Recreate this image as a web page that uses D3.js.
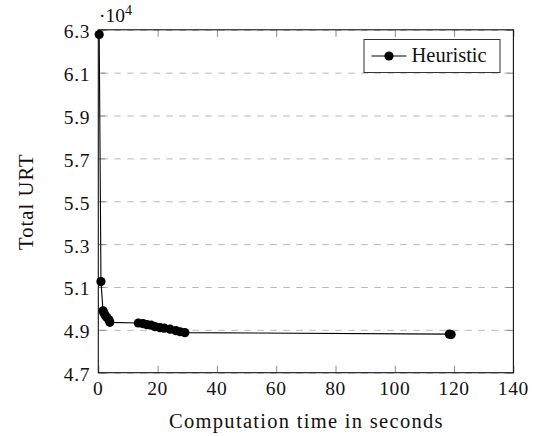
<!DOCTYPE html>
<html>
<head>
<meta charset="utf-8">
<title>Heuristic URT</title>
<script src="https://d3js.org/d3.v7.min.js"></script>
<style>
  body { margin: 0; background: #fff; }
</style>
</head>
<body>
<svg width="535" height="436"></svg>
<script>
// computation time (s) and total URT
const timeSec  = [0.3, 0.9, 1.6, 1.9, 2.4, 2.9, 3.6, 3.9, 13.5, 15.1, 16.4, 17.8, 19.1, 20.8, 22.2, 24.2, 26.2, 27.6, 29.2, 118.4, 119.0];
const totalUrt = [62780, 51250, 49890, 49780, 49660, 49570, 49470, 49350, 49320, 49290, 49240, 49220, 49150, 49100, 49080, 49030, 48960, 48910, 48870, 48800, 48780];

const xTicks = [0, 20, 40, 60, 80, 100, 120, 140];
const yTicks = [47000, 49000, 51000, 53000, 55000, 57000, 59000, 61000, 63000];
const seriesName = "Heuristic";

const svg = d3.select("svg").attr("fill", "#111");
const m = {left: 98.3, right: 513.4, top: 29.8, bottom: 372.7};
const fs = 20.5, tfs = 19.5;

const x = d3.scaleLinear().domain([0, 140]).range([m.left, m.right]);
const y = d3.scaleLinear().domain([47000, 63000]).range([m.bottom, m.top]);

// dashed horizontal grid
svg.append("g")
  .attr("transform", "translate(" + m.left + ",0)")
  .call(d3.axisLeft(y).tickValues(yTicks).tickSize(-(m.right - m.left)).tickFormat(""))
  .call(g => g.select(".domain").remove())
  .selectAll("line")
  .attr("stroke", "#b8b8b8")
  .attr("stroke-dasharray", "6.5,6.5")
  .attr("stroke-dashoffset", -3);

// inward ticks on all four sides
function tickStyle(g) {
  g.select(".domain").remove();
  g.selectAll("line").attr("stroke", "#8a8a8a").attr("stroke-width", 1);
  g.selectAll("text").remove();
}
svg.append("g").attr("transform", "translate(0," + m.bottom + ")")
  .call(d3.axisBottom(x).tickValues(xTicks).tickSize(-7)).call(tickStyle);
svg.append("g").attr("transform", "translate(0," + m.top + ")")
  .call(d3.axisTop(x).tickValues(xTicks).tickSize(-7)).call(tickStyle);
svg.append("g").attr("transform", "translate(" + m.left + ",0)")
  .call(d3.axisLeft(y).tickValues(yTicks).tickSize(-7)).call(tickStyle);
svg.append("g").attr("transform", "translate(" + m.right + ",0)")
  .call(d3.axisRight(y).tickValues(yTicks).tickSize(-7)).call(tickStyle);

// frame
svg.append("rect")
  .attr("x", m.left).attr("y", m.top)
  .attr("width", m.right - m.left).attr("height", m.bottom - m.top)
  .attr("fill", "none").attr("stroke", "#111").attr("stroke-width", 1.1);

// tick labels
svg.append("g").selectAll("text").data(xTicks).enter().append("text")
  .attr("x", d => x(d)).attr("y", 394.5)
  .attr("text-anchor", "middle").attr("font-size", tfs)
  .attr("letter-spacing", 0.6)
  .text(d => d);
svg.append("g").selectAll("text").data(yTicks).enter().append("text")
  .attr("x", 90).attr("y", d => y(d) + 2)
  .attr("dominant-baseline", "central")
  .attr("text-anchor", "end").attr("font-size", tfs)
  .attr("letter-spacing", 0.6)
  .text(d => (d / 10000).toFixed(1));

// scale marker
const sc = svg.append("text").attr("x", 99).attr("y", 21.5).attr("font-size", tfs);
sc.append("tspan").text("\u00b710");
sc.append("tspan").attr("dy", -7).attr("font-size", 14).text("4");

// axis titles
svg.append("text")
  .attr("x", (m.left + m.right) / 2 + 0.6).attr("y", 428)
  .attr("text-anchor", "middle").attr("font-size", fs)
  .attr("letter-spacing", 1.3)
  .text("Computation time in seconds");
svg.append("text")
  .attr("transform", "translate(33," + ((m.top + m.bottom) / 2 + 0.5) + ") rotate(-90)")
  .attr("text-anchor", "middle").attr("font-size", fs)
  .attr("letter-spacing", 1.1)
  .text("Total URT");

// series
const pts = timeSec.map((t, i) => [t, totalUrt[i]]);
svg.append("path")
  .datum(pts)
  .attr("fill", "none").attr("stroke", "#000").attr("stroke-width", 1.1)
  .attr("d", d3.line().x(d => x(d[0])).y(d => y(d[1])));
svg.append("g").selectAll("circle").data(pts).enter().append("circle")
  .attr("cx", d => x(d[0])).attr("cy", d => y(d[1]))
  .attr("r", 4.6).attr("fill", "#000");

// legend
const lg = svg.append("g");
lg.append("rect")
  .attr("x", 364).attr("y", 39.5).attr("width", 136).attr("height", 33)
  .attr("fill", "#fff").attr("stroke", "#333").attr("stroke-width", 1);
lg.append("line")
  .attr("x1", 371.5).attr("x2", 406.5).attr("y1", 56).attr("y2", 56)
  .attr("stroke", "#000").attr("stroke-width", 1.1);
lg.append("circle").attr("cx", 389).attr("cy", 56).attr("r", 4.6).attr("fill", "#000");
lg.append("text").attr("x", 411.5).attr("y", 61.5).attr("font-size", fs).text(seriesName);

svg.selectAll("text").style("font-family", "Liberation Serif");
</script>
</body>
</html>
